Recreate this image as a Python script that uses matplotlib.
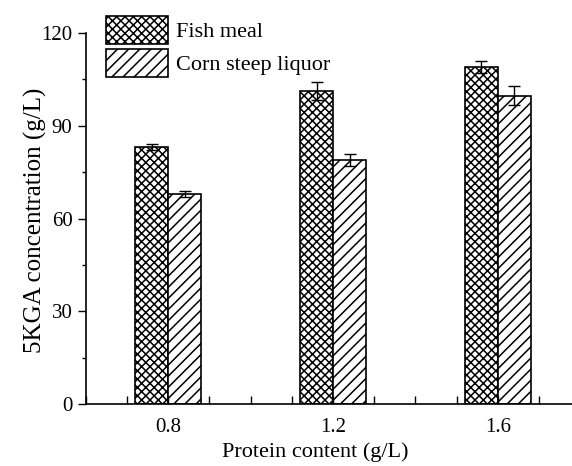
import matplotlib
matplotlib.use("Agg")
import matplotlib.pyplot as plt
import numpy as np
from matplotlib.ticker import MultipleLocator

plt.rcParams['font.family'] = ['Liberation Serif', 'DejaVu Serif']
plt.rcParams['hatch.linewidth'] = 1.1

protein = [0.8, 1.2, 1.6]
fish_meal = [83.2, 101.3, 109.0]
fish_err = [1.0, 3.0, 2.0]
corn_steep = [68.0, 79.0, 99.8]
corn_err = [1.0, 2.0, 3.2]

fig = plt.figure(figsize=(5.72, 4.66), dpi=100)
ax = fig.add_axes([0.150, 0.133, 0.85, 0.796])

w = 0.08
x = np.array(protein)
ax.bar(x - w/2, fish_meal, w, yerr=fish_err, color='white', edgecolor='black',
       linewidth=1.2, hatch='xxxx', label='Fish meal',
       error_kw=dict(ecolor='black', elinewidth=1.0, capsize=4.5, capthick=1.0))
ax.bar(x + w/2, corn_steep, w, yerr=corn_err, color='white', edgecolor='black',
       linewidth=1.2, hatch='///', label='Corn steep liquor',
       error_kw=dict(ecolor='black', elinewidth=1.0, capsize=4.5, capthick=1.0))

ax.set_xlim(0.6, 1.78)
ax.set_ylim(0, 120)
ax.set_xticks(protein)
ax.set_xticklabels(['0.8', '1.2', '1.6'])
ax.xaxis.set_minor_locator(MultipleLocator(0.1))
ax.set_yticks([0, 30, 60, 90, 120])
ax.yaxis.set_minor_locator(MultipleLocator(15))

for s in ['top', 'right']:
    ax.spines[s].set_visible(False)
for s in ['left', 'bottom']:
    ax.spines[s].set_linewidth(1.2)

ax.tick_params(axis='x', which='both', direction='in', length=6, width=1.0, labelsize=15, pad=10)
ax.tick_params(axis='y', which='major', direction='out', length=6, width=1.0, labelsize=15)
ax.tick_params(axis='y', which='minor', direction='out', length=3, width=1.0)

ax.set_xlabel('Protein content (g/L)', fontsize=16, va='top')
ax.xaxis.set_label_coords(0.471, -0.103)
ax.set_ylabel('5KGA concentration (g/L)', fontsize=18)
ax.yaxis.set_label_coords(-0.080, 0.496)

leg = ax.legend(loc='upper left', bbox_to_anchor=(0.041, 1.047), frameon=False,
                fontsize=16, handlelength=2.8, handleheight=1.6,
                handletextpad=0.36, labelspacing=0.2, borderaxespad=0,
                borderpad=0)

fig.savefig('out.png', dpi=100)
